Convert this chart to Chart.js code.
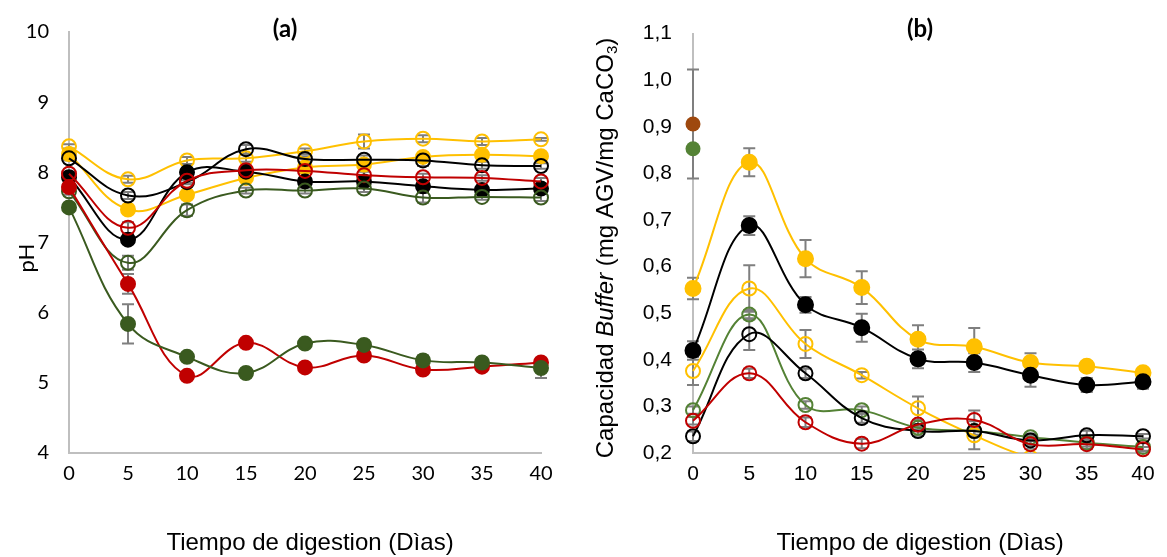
<!DOCTYPE html>
<html lang="es">
<head>
  <meta charset="UTF-8" />
  <title>pH y capacidad buffer durante la digestión</title>
  <script src="https://cdn.jsdelivr.net/npm/chart.js@4.4.3/dist/chart.umd.min.js"></script>
  <style>
    body {
      margin: 0;
      background: #ffffff;
      width: 1167px;
      height: 557px;
      position: relative;
      overflow: hidden;
    }
    canvas {
      position: absolute;
      top: 0;
    }
    #chartPH { left: 0; }
    #chartBuffer { left: 580px; }
  </style>
</head>
<body>
  <canvas id="chartPH" width="580" height="557"></canvas>
  <canvas id="chartBuffer" width="587" height="557"></canvas>

  <script>
    // Días de muestreo
    const days = [0, 5, 10, 15, 20, 25, 30, 35, 40];

    // (a) pH por tratamiento
    const phYellowOpen = [8.37, 7.90, 8.17, 8.20, 8.30, 8.44, 8.48, 8.44, 8.47];
    const phYellowFill = [8.26, 7.47, 7.68, 7.92, 8.07, 8.11, 8.22, 8.25, 8.23];
    const phBlackOpen  = [8.20, 7.67, 7.86, 8.33, 8.19, 8.18, 8.17, 8.10, 8.09];
    const phBlackFill  = [7.93, 7.04, 8.00, 8.01, 7.87, 7.87, 7.80, 7.75, 7.77];
    const phRedOpen    = [7.98, 7.21, 7.88, 8.03, 8.02, 7.96, 7.93, 7.92, 7.87];
    const phRedFill    = [7.79, 6.41, 5.10, 5.57, 5.22, 5.39, 5.19, 5.23, 5.29];
    const phGreenOpen  = [7.73, 6.71, 7.46, 7.74, 7.74, 7.77, 7.64, 7.65, 7.64];
    const phGreenFill  = [7.50, 5.84, 5.37, 5.14, 5.56, 5.54, 5.32, 5.29, 5.21];

    // (a) desviación estándar
    const phErrYellowOpen = [0.03, 0.05, 0.05, 0.05, 0.04, 0.10, 0.05, 0.05, 0.02];
    const phErrYellowFill = [0.03, 0.05, 0.03, 0.03, 0.03, 0.03, 0.03, 0.03, 0.03];
    const phErrBlackOpen  = [0.03, 0.05, 0.03, 0.06, 0.04, 0.06, 0.08, 0.05, 0.04];
    const phErrBlackFill  = [0.02, 0.05, 0.03, 0.03, 0.02, 0.02, 0.02, 0.02, 0.02];
    const phErrRedOpen    = [0.03, 0.08, 0.03, 0.03, 0.03, 0.05, 0.05, 0.04, 0.05];
    const phErrRedFill    = [0.03, 0.14, 0.03, 0.03, 0.03, 0.03, 0.03, 0.03, 0.03];
    const phErrGreenOpen  = [0.05, 0.10, 0.08, 0.04, 0.04, 0.05, 0.07, 0.04, 0.05];
    const phErrGreenFill  = [0.03, 0.28, 0.05, 0.06, 0.05, 0.06, 0.07, 0.03, 0.14];

    // (b) capacidad buffer (mg AGV/mg CaCO3)
    const bufYellowFill = [0.553, 0.824, 0.617, 0.555, 0.444, 0.428, 0.394, 0.386, 0.372];
    const bufBlackFill  = [0.420, 0.688, 0.518, 0.469, 0.402, 0.394, 0.367, 0.346, 0.353];
    const bufYellowOpen = [0.376, 0.553, 0.434, 0.367, 0.296, 0.238, 0.190, 0.170, 0.160];
    const bufGreenOpen  = [0.292, 0.497, 0.303, 0.292, 0.254, 0.247, 0.234, 0.222, 0.213];
    const bufBlackOpen  = [0.236, 0.455, 0.371, 0.275, 0.247, 0.247, 0.227, 0.238, 0.236];
    const bufRedOpen    = [0.269, 0.371, 0.266, 0.220, 0.261, 0.271, 0.219, 0.219, 0.208];
    // inóculos (solo día 0)
    const bufInocBrown = 0.906;
    const bufInocGreen = 0.853;

    // (b) desviación estándar
    const bufErrYellowFill = [0.023, 0.030, 0.040, 0.035, 0.030, 0.040, 0.020, 0.010, 0.005];
    const bufErrBlackFill  = [0.020, 0.020, 0.017, 0.030, 0.020, 0.020, 0.025, 0.015, 0.015];
    const bufErrYellowOpen = [0.030, 0.050, 0.030, 0.007, 0.025, 0.030, 0, 0, 0];
    const bufErrGreenOpen  = [0.008, 0.010, 0.008, 0.008, 0.008, 0.008, 0.008, 0.008, 0.008];
    const bufErrBlackOpen  = [0.010, 0.034, 0.010, 0.010, 0.010, 0.010, 0.010, 0.010, 0.005];
    const bufErrRedOpen    = [0.008, 0.010, 0.010, 0.010, 0.010, 0.020, 0.010, 0.010, 0.005];
    const bufErrInocBrown  = 0.117;

    const YELLOW = '#FFC000';
    const BLACK = '#000000';
    const RED = '#C00000';
    const GREEN_A = '#3A5A1F';
    const GREEN_B = '#548235';
    const BROWN = '#9E480E';
    const AXIS = '#BFBFBF';

    const toPoints = (vals) => days.map((d, i) => ({ x: d, y: vals[i] }));

    function series(vals, errs, color, filled, extra) {
      return Object.assign({
        data: toPoints(vals),
        errors: errs,
        borderColor: color,
        borderWidth: 2,
        pointRadius: 7,
        pointBorderWidth: 2,
        pointBorderColor: color,
        pointBackgroundColor: filled ? color : 'rgba(0,0,0,0)',
        tension: 0.4,
        clip: 14
      }, extra || {});
    }

    // barras de error grises, detrás de los marcadores
    const errorBars = {
      id: 'errorBars',
      beforeDatasetsDraw(chart) {
        const { ctx, scales: { x, y } } = chart;
        ctx.save();
        ctx.strokeStyle = '#7F7F7F';
        ctx.lineWidth = 2;
        chart.data.datasets.forEach((ds) => {
          if (!ds.errors) return;
          ds.data.forEach((pt, j) => {
            const e = ds.errors[j];
            if (!e) return;
            const px = x.getPixelForValue(pt.x);
            const top = y.getPixelForValue(pt.y + e);
            const bot = y.getPixelForValue(pt.y - e);
            ctx.beginPath();
            ctx.moveTo(px, top);
            ctx.lineTo(px, bot);
            ctx.moveTo(px - 6, top);
            ctx.lineTo(px + 6, top);
            ctx.moveTo(px - 6, bot);
            ctx.lineTo(px + 6, bot);
            ctx.stroke();
          });
        });
        ctx.restore();
      }
    };

    // texto con tramos de distinta fuente (cursiva, subíndice)
    function drawRich(ctx, parts, x, y, angle) {
      ctx.save();
      ctx.translate(x, y);
      ctx.rotate(angle || 0);
      ctx.fillStyle = '#000';
      ctx.textBaseline = 'middle';
      ctx.textAlign = 'left';
      let total = 0;
      parts.forEach(p => { ctx.font = p.font; total += ctx.measureText(p.text).width; });
      let cx = -total / 2;
      parts.forEach(p => {
        ctx.font = p.font;
        ctx.fillText(p.text, cx, p.dy || 0);
        cx += ctx.measureText(p.text).width;
      });
      ctx.restore();
    }

    const captions = {
      id: 'captions',
      afterDraw(chart, args, opts) {
        (opts.items || []).forEach(it => drawRich(chart.ctx, it.parts, it.x, it.y, it.angle));
      }
    };

    const ARIAL = '"Liberation Sans", Arial, sans-serif';
    const CALIBRI = 'Lato, "Open Sans", sans-serif';
    const xTitle = [{ text: 'Tiempo de digestion (Dìas)', font: '24px ' + ARIAL }];

    // ---- (a) pH ----
    new Chart(document.getElementById('chartPH'), {
      type: 'line',
      data: {
        datasets: [
          series(phGreenFill, phErrGreenFill, GREEN_A, true),
          series(phRedFill, phErrRedFill, RED, true),
          series(phGreenOpen, phErrGreenOpen, GREEN_A, false),
          series(phRedOpen, phErrRedOpen, RED, false),
          series(phBlackFill, phErrBlackFill, BLACK, true),
          series(phBlackOpen, phErrBlackOpen, BLACK, false),
          series(phYellowFill, phErrYellowFill, YELLOW, true),
          series(phYellowOpen, phErrYellowOpen, YELLOW, false)
        ]
      },
      options: {
        responsive: false,
        animation: false,
        layout: { padding: { top: 25, right: 39, bottom: 0, left: 0 } },
        scales: {
          x: {
            type: 'linear',
            min: 0,
            max: 40,
            ticks: { stepSize: 5, padding: 9, color: '#000', font: { family: CALIBRI, size: 20 } },
            grid: { display: false, drawTicks: false },
            border: { color: AXIS, width: 2 },
            afterFit: (s) => { s.height = 104; }
          },
          y: {
            min: 4,
            max: 10,
            ticks: { stepSize: 1, padding: 20, color: '#000', font: { family: CALIBRI, size: 20 } },
            grid: { display: false, drawTicks: false },
            border: { color: AXIS, width: 2 },
            afterFit: (s) => { s.width = 69; }
          }
        },
        plugins: {
          legend: { display: false },
          tooltip: { enabled: false },
          captions: {
            items: [
              { parts: [{ text: '(a)', font: 'bold 24px ' + CALIBRI }], x: 285, y: 29 },
              { parts: [{ text: 'pH', font: '22px ' + CALIBRI }], x: 27, y: 258, angle: -Math.PI / 2 },
              { parts: xTitle, x: 310, y: 543 }
            ]
          }
        }
      },
      plugins: [errorBars, captions]
    });

    // ---- (b) capacidad buffer ----
    const noBottom = { left: 14, right: 14, top: 14, bottom: 0 };

    new Chart(document.getElementById('chartBuffer'), {
      type: 'line',
      data: {
        datasets: [
          {
            data: [{ x: 0, y: bufInocBrown }],
            errors: [bufErrInocBrown],
            showLine: false,
            pointRadius: 7.5,
            pointBorderWidth: 0,
            pointBackgroundColor: BROWN,
            clip: 14
          },
          {
            data: [{ x: 0, y: bufInocGreen }],
            showLine: false,
            pointRadius: 7.5,
            pointBorderWidth: 0,
            pointBackgroundColor: GREEN_B,
            clip: 14
          },
          series(bufRedOpen, bufErrRedOpen, RED, false),
          series(bufBlackOpen, bufErrBlackOpen, BLACK, false),
          series(bufGreenOpen, bufErrGreenOpen, GREEN_B, false),
          series(bufYellowOpen, bufErrYellowOpen, YELLOW, false, { clip: noBottom }),
          series(bufBlackFill, bufErrBlackFill, BLACK, true, { pointRadius: 7.5 }),
          series(bufYellowFill, bufErrYellowFill, YELLOW, true, { pointRadius: 7.5 })
        ]
      },
      options: {
        responsive: false,
        animation: false,
        layout: { padding: { top: 25, right: 24, bottom: 0, left: 0 } },
        scales: {
          x: {
            type: 'linear',
            min: 0,
            max: 40,
            ticks: { stepSize: 5, padding: 9, color: '#000', font: { family: ARIAL, size: 21 } },
            grid: { display: false, drawTicks: false },
            border: { color: AXIS, width: 2 },
            afterFit: (s) => { s.height = 104; }
          },
          y: {
            min: 0.2,
            max: 1.1,
            ticks: {
              stepSize: 0.1,
              padding: 21,
              color: '#000',
              font: { family: ARIAL, size: 21 },
              callback: (v) => v.toFixed(1).replace('.', ',')
            },
            grid: { display: false, drawTicks: false },
            border: { color: AXIS, width: 2 },
            afterFit: (s) => { s.width = 113; }
          }
        },
        plugins: {
          legend: { display: false },
          tooltip: { enabled: false },
          captions: {
            items: [
              { parts: [{ text: '(b)', font: 'bold 24px ' + CALIBRI }], x: 340, y: 29 },
              {
                parts: [
                  { text: 'Capacidad ', font: '24px ' + ARIAL },
                  { text: 'Buffer', font: 'italic 24px ' + ARIAL },
                  { text: ' (mg AGV/mg CaCO', font: '24px ' + ARIAL },
                  { text: '3', font: '15px ' + ARIAL, dy: 7 },
                  { text: ')', font: '24px ' + ARIAL }
                ],
                x: 26, y: 248, angle: -Math.PI / 2
              },
              { parts: xTitle, x: 340, y: 543 }
            ]
          }
        }
      },
      plugins: [errorBars, captions]
    });
  </script>
</body>
</html>
